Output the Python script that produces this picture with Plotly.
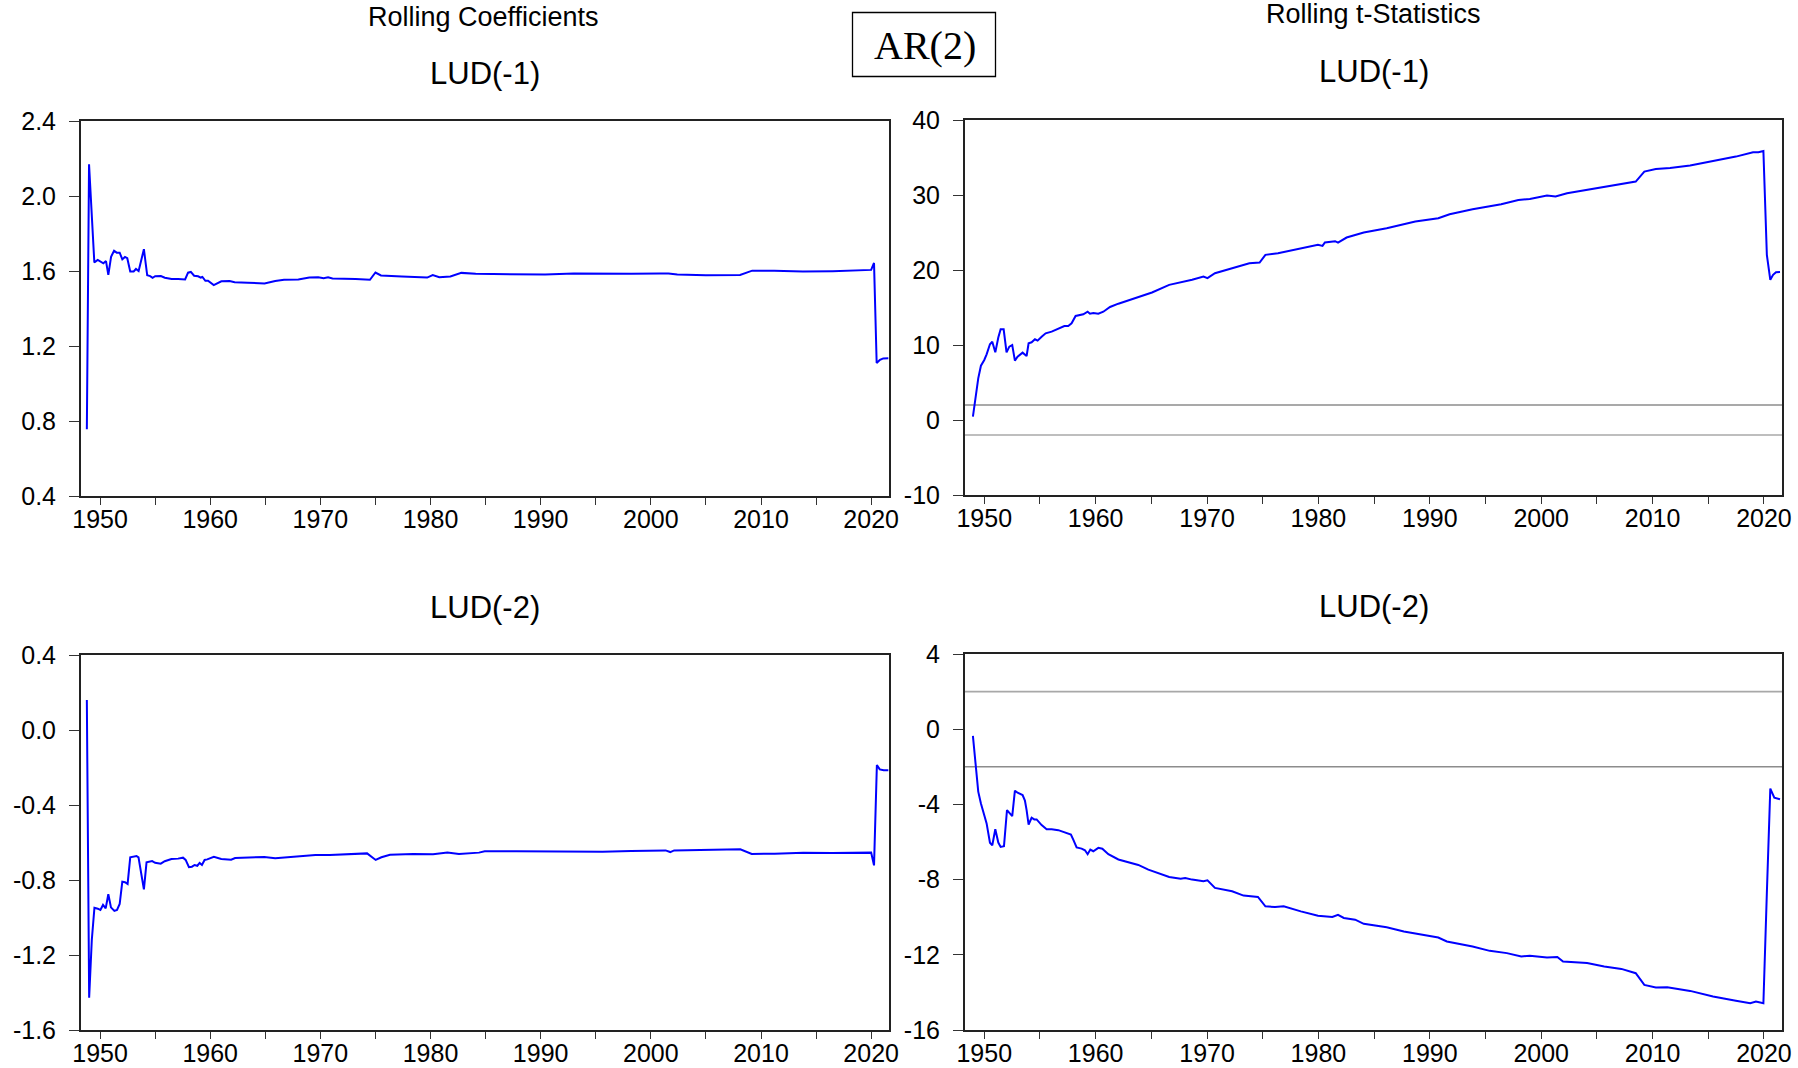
import plotly.graph_objects as go

# ---------------- data ----------------
coef1_years = [1948.8, 1949.0, 1949.48, 1949.79, 1950.30, 1950.54, 1950.75, 1951.0, 1951.27, 1951.51,
               1951.78, 1952.02, 1952.26, 1952.47, 1952.74, 1953.05, 1953.26, 1953.50, 1953.98, 1954.28,
               1954.55, 1954.77, 1955.0, 1955.52, 1955.88, 1956.49, 1957.09, 1957.45, 1957.72, 1957.99,
               1958.24, 1958.54, 1958.90, 1959.14, 1959.29, 1959.56, 1959.80, 1960.32, 1960.56, 1961.01,
               1961.76, 1962.22, 1963.42, 1964.93, 1965.9, 1966.7, 1968.0, 1969.0, 1969.8, 1970.3,
               1970.7, 1971.1, 1973.2, 1974.5, 1975.0, 1975.5, 1977.4, 1979.7, 1980.2, 1980.8,
               1981.8, 1982.8, 1984.1, 1987.8, 1990.4, 1993.0, 1995.6, 1998.2, 2000.8, 2001.6,
               2002.4, 2005.0, 2008.1, 2009.2, 2011.2, 2013.8, 2016.5, 2018.5, 2020.0, 2020.26,
               2020.5, 2020.8, 2021.1, 2021.56]
coef1_vals = [0.756, 2.169, 1.646, 1.659, 1.641, 1.653, 1.579, 1.676, 1.708, 1.698,
              1.698, 1.662, 1.675, 1.668, 1.598, 1.598, 1.611, 1.600, 1.716, 1.577,
              1.573, 1.564, 1.572, 1.573, 1.564, 1.557, 1.557, 1.554, 1.555, 1.591,
              1.595, 1.575, 1.572, 1.565, 1.568, 1.548, 1.548, 1.525, 1.531, 1.545,
              1.547, 1.540, 1.538, 1.534, 1.547, 1.553, 1.555, 1.565, 1.567, 1.562,
              1.567, 1.560, 1.558, 1.553, 1.592, 1.576, 1.571, 1.565, 1.578, 1.567,
              1.571, 1.590, 1.585, 1.581, 1.581, 1.587, 1.585, 1.585, 1.587, 1.587,
              1.581, 1.578, 1.579, 1.602, 1.601, 1.597, 1.599, 1.604, 1.606, 1.643,
              1.109, 1.126, 1.134, 1.135]

tstat1_years = [1948.98, 1949.22, 1949.46, 1949.70, 1950.0, 1950.21, 1950.51, 1950.72, 1950.99, 1951.26,
                1951.47, 1951.74, 1952.0, 1952.25, 1952.51, 1952.75, 1952.99, 1953.44, 1953.80, 1953.98,
                1954.25, 1954.55, 1954.79, 1955.15, 1955.51, 1956.05, 1956.65, 1957.19, 1957.54, 1957.84,
                1958.20, 1958.50, 1958.89, 1959.28, 1959.49, 1959.79, 1960.24, 1960.69, 1961.29, 1962.04,
                1962.93, 1963.83, 1965.06, 1966.6, 1967.63, 1968.14, 1968.66, 1969.68, 1970.04, 1970.71,
                1972.25, 1973.8, 1974.72, 1975.24, 1976.37, 1978.42, 1979.96, 1980.37, 1980.58, 1981.5,
                1981.76, 1982.53, 1984.07, 1986.13, 1988.70, 1990.76, 1991.78, 1993.84, 1996.41, 1997.95,
                1998.98, 2000.52, 2001.29, 2002.32, 2004.12, 2006.17, 2008.49, 2009.26, 2010.29, 2011.57,
                2013.37, 2015.43, 2017.48, 2019.02, 2019.5, 2019.95, 2020.26, 2020.57, 2020.82, 2021.08,
                2021.44]
tstat1_vals = [0.44, 3.33, 5.56, 7.24, 8.0, 8.76, 10.1, 10.44, 9.02, 11.0,
               12.09, 12.09, 9.02, 9.78, 10.0, 7.91, 8.44, 8.98, 8.53, 10.22,
               10.36, 10.76, 10.58, 11.11, 11.56, 11.78, 12.22, 12.53, 12.53, 12.89,
               13.87, 14.0, 14.09, 14.44, 14.18, 14.27, 14.18, 14.44, 15.07, 15.51,
               15.96, 16.36, 17.0, 18.02, 18.37, 18.46, 18.69, 19.13, 18.91, 19.57,
               20.24, 20.91, 21.0, 22.02, 22.24, 22.90, 23.35, 23.21, 23.66, 23.84,
               23.66, 24.33, 24.99, 25.57, 26.46, 26.90, 27.43, 28.10, 28.77, 29.34,
               29.48, 29.92, 29.79, 30.23, 30.67, 31.25, 31.79, 33.12, 33.47, 33.61,
               33.92, 34.54, 35.12, 35.69, 35.69, 35.87, 22.02, 18.69, 19.35, 19.71,
               19.75]

coef2_years = [1948.80, 1949.01, 1949.25, 1949.49, 1949.79, 1950.03, 1950.27, 1950.51, 1950.75, 1950.99,
               1951.30, 1951.54, 1951.78, 1952.02, 1952.26, 1952.50, 1952.74, 1953.01, 1953.31, 1953.49,
               1953.98, 1954.22, 1954.52, 1954.73, 1955.0, 1955.51, 1955.87, 1956.48, 1957.08, 1957.53,
               1957.77, 1958.07, 1958.34, 1958.58, 1958.83, 1959.04, 1959.25, 1959.49, 1959.73, 1960.33,
               1961.0, 1961.9, 1962.26, 1963.40, 1964.91, 1965.9, 1967.46, 1969.55, 1970.33, 1970.85,
               1974.24, 1975.02, 1975.54, 1976.32, 1978.41, 1980.23, 1981.53, 1982.58, 1984.40, 1984.92,
               1987.79, 1990.39, 1993.0, 1995.61, 1998.21, 2001.34, 2001.76, 2002.12, 2004.47, 2008.12,
               2009.16, 2011.24, 2013.85, 2016.46, 2020.0, 2020.26, 2020.52, 2020.78, 2021.14, 2021.56]
coef2_vals = [0.16, -1.428, -1.12, -0.948, -0.953, -0.960, -0.933, -0.951, -0.876, -0.946,
              -0.965, -0.960, -0.928, -0.809, -0.812, -0.821, -0.679, -0.676, -0.672, -0.679,
              -0.850, -0.706, -0.702, -0.699, -0.708, -0.713, -0.700, -0.688, -0.686, -0.681,
              -0.693, -0.731, -0.729, -0.720, -0.724, -0.709, -0.720, -0.693, -0.690, -0.676,
              -0.688, -0.692, -0.683, -0.679, -0.677, -0.684, -0.676, -0.667, -0.667, -0.667,
              -0.658, -0.693, -0.679, -0.665, -0.661, -0.663, -0.654, -0.661, -0.654, -0.647,
              -0.647, -0.647, -0.651, -0.649, -0.645, -0.642, -0.651, -0.642, -0.640, -0.636,
              -0.661, -0.660, -0.654, -0.656, -0.654, -0.722, -0.187, -0.210, -0.215, -0.215]

tstat2_years = [1948.98, 1949.22, 1949.46, 1949.70, 1950.0, 1950.21, 1950.51, 1950.72, 1950.99, 1951.26,
                1951.47, 1951.77, 1952.04, 1952.31, 1952.51, 1952.75, 1952.99, 1953.44, 1953.65, 1953.80,
                1953.98, 1954.25, 1954.49, 1954.70, 1955.15, 1955.60, 1956.05, 1956.65, 1957.25, 1957.78,
                1957.99, 1958.29, 1958.74, 1959.04, 1959.28, 1959.52, 1959.79, 1960.24, 1960.60, 1961.14,
                1962.04, 1962.63, 1963.83, 1964.73, 1966.09, 1966.6, 1967.63, 1968.04, 1968.66, 1969.68,
                1970.04, 1970.71, 1972.25, 1973.28, 1974.57, 1975.24, 1976.11, 1976.88, 1978.42, 1979.96,
                1981.25, 1981.76, 1982.28, 1983.30, 1984.07, 1986.13, 1987.67, 1989.73, 1990.76, 1991.53,
                1993.84, 1995.38, 1996.92, 1998.21, 1998.98, 2000.52, 2001.45, 2001.96, 2004.12, 2005.66,
                2007.2, 2008.49, 2009.26, 2010.29, 2011.32, 2013.37, 2015.43, 2017.48, 2018.77, 2019.28,
                2019.95, 2020.26, 2020.57, 2020.93, 2021.44]
tstat2_vals = [-0.36, -1.99, -3.32, -3.95, -4.53, -5.01, -6.04, -6.17, -5.32, -6.03,
               -6.26, -6.22, -4.30, -4.52, -4.62, -3.27, -3.38, -3.50, -3.80, -4.30,
               -5.07, -4.71, -4.80, -4.80, -5.10, -5.32, -5.32, -5.37, -5.48, -5.60,
               -5.87, -6.29, -6.35, -6.44, -6.65, -6.40, -6.49, -6.31, -6.36, -6.65,
               -6.93, -7.02, -7.22, -7.47, -7.73, -7.86, -7.95, -7.91, -8.00, -8.09,
               -8.04, -8.44, -8.62, -8.85, -8.92, -9.42, -9.46, -9.42, -9.69, -9.92,
               -9.99, -9.87, -10.04, -10.13, -10.35, -10.54, -10.76, -10.99, -11.08, -11.29,
               -11.56, -11.79, -11.91, -12.09, -12.05, -12.14, -12.12, -12.36, -12.44, -12.62,
               -12.75, -12.98, -13.60, -13.74, -13.72, -13.92, -14.22, -14.44, -14.58, -14.49,
               -14.58, -8.71, -3.16, -3.64, -3.73]

t_bands = [2, -2]

x_tickvals = [1950, 1955, 1960, 1965, 1970, 1975, 1980, 1985, 1990, 1995, 2000, 2005, 2010, 2015, 2020]
x_ticktext = [str(v) if v % 10 == 0 else "" for v in x_tickvals]

coef1_ticks = [0.4, 0.8, 1.2, 1.6, 2.0, 2.4]
tstat1_ticks = [-10, 0, 10, 20, 30, 40]
coef2_ticks = [-1.6, -1.2, -0.8, -0.4, 0.0, 0.4]
tstat2_ticks = [-16, -12, -8, -4, 0, 4]

main_title = "AR(2)"
col_titles = ["Rolling Coefficients", "Rolling t-Statistics"]
panel_titles = ["LUD(-1)", "LUD(-1)", "LUD(-2)", "LUD(-2)"]

# ---------------- layout helpers ----------------
W, H = 1798, 1068
def fx(p):
    return p / W
def fy(p):
    return 1 - p / H

XR = [1948.27, 2021.62]
SANS = "Liberation Sans, Arial, sans-serif"
SERIF = "Liberation Serif, Times New Roman, serif"
BLUE = "#0000FF"

# pixel boxes: (left, right, top, bottom)
boxes = [(81, 889, 121, 496), (965, 1782, 120, 495), (81, 889, 655, 1030), (965, 1782, 654, 1030)]
yspecs = [
    (coef1_ticks, [f"{v:.1f}" for v in coef1_ticks]),
    (tstat1_ticks, [str(v) for v in tstat1_ticks]),
    (coef2_ticks, [f"{v:.1f}" for v in coef2_ticks]),
    (tstat2_ticks, [str(v) for v in tstat2_ticks]),
]
series = [(coef1_years, coef1_vals), (tstat1_years, tstat1_vals),
          (coef2_years, coef2_vals), (tstat2_years, tstat2_vals)]

fig = go.Figure()
layout = dict(
    width=W, height=H, template="none",
    paper_bgcolor="white", plot_bgcolor="white",
    margin=dict(l=0, r=0, t=0, b=0, autoexpand=False),
    showlegend=False,
    font=dict(family=SANS, color="black"),
)

shapes = []
annotations = []
for i, (box, (tv, tt), (xs, ys)) in enumerate(zip(boxes, yspecs, series)):
    n = "" if i == 0 else str(i + 1)
    l, r, t, b = box
    layout["xaxis" + n] = dict(
        domain=[fx(l), fx(r)], range=XR, anchor="y" + n,
        tickmode="array", tickvals=x_tickvals, ticktext=x_ticktext,
        ticks="outside", ticklen=7, tickwidth=1.2, tickcolor="#333",
        ticklabelstandoff=-7,
        showline=True, linecolor="#222", linewidth=2, mirror=True,
        showgrid=False, zeroline=False, automargin=False,
        tickfont=dict(family=SANS, size=25, color="black"),
    )
    layout["yaxis" + n] = dict(
        domain=[fy(b), fy(t)], range=[tv[0], tv[-1]], anchor="x" + n,
        tickmode="array", tickvals=tv, ticktext=tt,
        ticks="outside", ticklen=10, tickwidth=1.2, tickcolor="#333",
        ticklabelstandoff=8,
        showline=True, linecolor="#222", linewidth=2, mirror=True,
        showgrid=False, zeroline=False, automargin=False,
        tickfont=dict(family=SANS, size=25, color="black"),
    )
    if i in (1, 3):
        for k, band in enumerate(t_bands):
            shapes.append(dict(type="line", xref="x" + n + " domain", yref="y" + n,
                               x0=0, x1=1, y0=band, y1=band, layer="below",
                               line=dict(color="#8c8c8c" if (k == 0) == (i == 1) else "#a8a8a8",
                                         width=1.6)))
    fig.add_trace(go.Scatter(x=xs, y=ys, mode="lines", xaxis="x" + n, yaxis="y" + n,
                             line=dict(color=BLUE, width=2), hoverinfo="skip"))
    # panel title
    annotations.append(dict(text=panel_titles[i], xref="paper", yref="paper",
                            x=fx((l + r) / 2), y=fy(t - 48), xanchor="center", yanchor="middle",
                            showarrow=False, font=dict(family=SANS, size=31, color="black")))

annotations.append(dict(text=col_titles[0], xref="paper", yref="paper", x=fx(483), y=fy(17),
                        xanchor="center", yanchor="middle", showarrow=False,
                        font=dict(family=SANS, size=27, color="black")))
annotations.append(dict(text=col_titles[1], xref="paper", yref="paper", x=fx(1373), y=fy(14),
                        xanchor="center", yanchor="middle", showarrow=False,
                        font=dict(family=SANS, size=27, color="black")))
annotations.append(dict(text=main_title, xref="paper", yref="paper", x=fx(924.5), y=fy(45),
                        xanchor="center", yanchor="middle", showarrow=False,
                        font=dict(family=SERIF, size=40, color="black")))
shapes.append(dict(type="rect", xref="paper", yref="paper", x0=fx(852.5), x1=fx(995.5),
                   y0=fy(76.5), y1=fy(12.5), line=dict(color="black", width=1.3),
                   fillcolor="rgba(0,0,0,0)"))

layout["shapes"] = shapes
layout["annotations"] = annotations
fig.update_layout(**layout)

fig.write_html("out.html", config={"displayModeBar": False},
               post_script="document.body.style.margin='0';document.body.style.overflow='hidden';")
